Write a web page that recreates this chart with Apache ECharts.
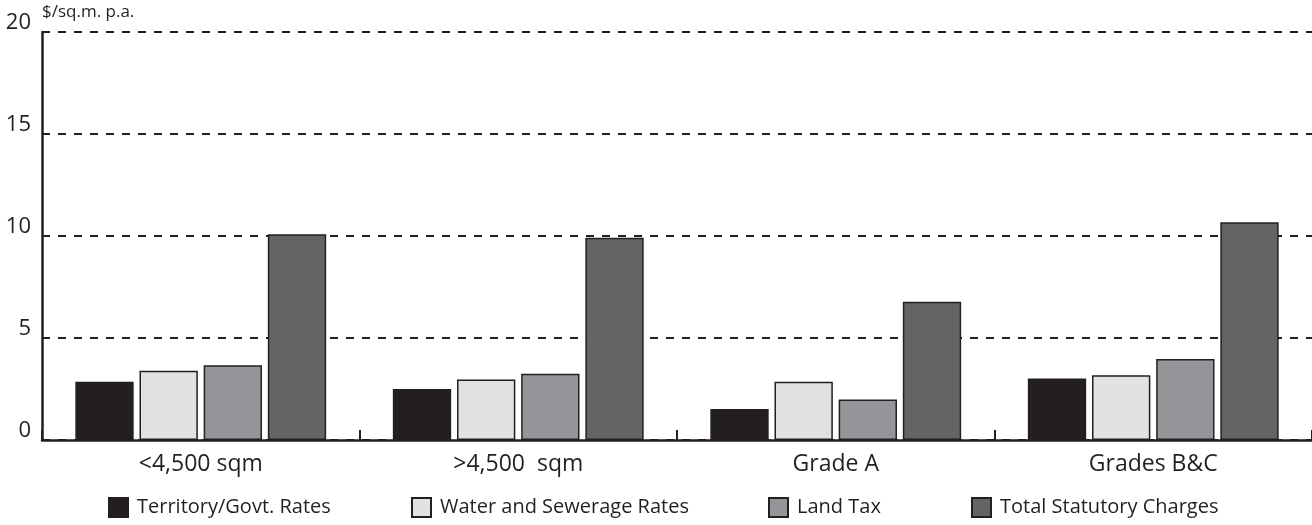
<!DOCTYPE html>
<html>
<head>
<meta charset="utf-8">
<script src="https://cdn.jsdelivr.net/npm/echarts@6/dist/echarts.min.js"></script>
<style>
  html, body { margin: 0; padding: 0; background: #fff; }
  #main { width: 1312px; height: 525px; }
</style>
</head>
<body>
<div id="main"></div>
<script>
// categories and values ($/sq.m. p.a.)
const categories = ["<4,500 sqm", ">4,500  sqm", "Grade A", "Grades B&C"];
const territoryRates = [2.85, 2.5, 1.52, 3.02];
const waterRates = [3.4, 2.96, 2.86, 3.17];
const landTax = [3.66, 3.25, 1.98, 3.97];
const totalCharges = [10.08, 9.92, 6.78, 10.67];
const yTicks = [0, 5, 10, 15, 20];

const names = [
  "Territory/Govt. Rates",
  "Water and Sewerage Rates",
  "Land Tax",
  "Total Statutory Charges",
];
const colors = ["#231f20", "#e1e2e3", "#939598", "#636466"];
const legendLeft = [108, 411, 768, 971];
const ink = "#231f20";
const font = "'Open Sans', 'DejaVu Sans', sans-serif";

var myChart = echarts.init(document.getElementById("main"));

var option = {
  animation: false,
  textStyle: { fontFamily: font, color: ink },
  grid: { left: 42, right: 0, top: 32, bottom: 85, containLabel: false },
  graphic: [
    {
      type: "text",
      left: 42,
      top: 4,
      style: { text: "$/sq.m. p.a.", font: "17px " + font, fill: ink },
    },
  ],
  // four separate legends so each item can sit where it is in the original
  legend: names.map((n, i) => ({
    data: [n],
    left: legendLeft[i],
    top: 497,
    padding: 0,
    itemWidth: 19,
    itemHeight: 19,
    icon: "rect",
    textStyle: { fontSize: 20, color: ink, fontFamily: font, padding: [0, 0, 0, 4] },
  })),
  xAxis: {
    type: "category",
    data: categories,
    axisLine: { lineStyle: { color: ink, width: 2.5 } },
    axisTick: { show: true, inside: true, length: 10, lineStyle: { color: ink, width: 2 } },
    axisLabel: { fontSize: 23, color: ink, margin: 13, fontFamily: font },
  },
  yAxis: {
    type: "value",
    min: yTicks[0],
    max: yTicks[yTicks.length - 1],
    interval: 5,
    axisLine: { show: true, lineStyle: { color: ink, width: 2.5 } },
    axisTick: { show: false },
    axisLabel: {
      fontSize: 22,
      color: ink,
      margin: 11,
      fontFamily: font,
      verticalAlign: "bottom",
      lineHeight: 18,
    },
    splitLine: {
      show: true,
      lineStyle: { color: ink, width: 2, type: [8, 8] },
    },
  },
  series: [territoryRates, waterRates, landTax, totalCharges].map((d, i) => ({
    name: names[i],
    type: "bar",
    data: d,
    barGap: "10%",
    barCategoryGap: "21%",
    itemStyle: { color: colors[i], borderColor: ink, borderWidth: 1.5 },
  })),
};

myChart.setOption(option);
</script>
</body>
</html>
